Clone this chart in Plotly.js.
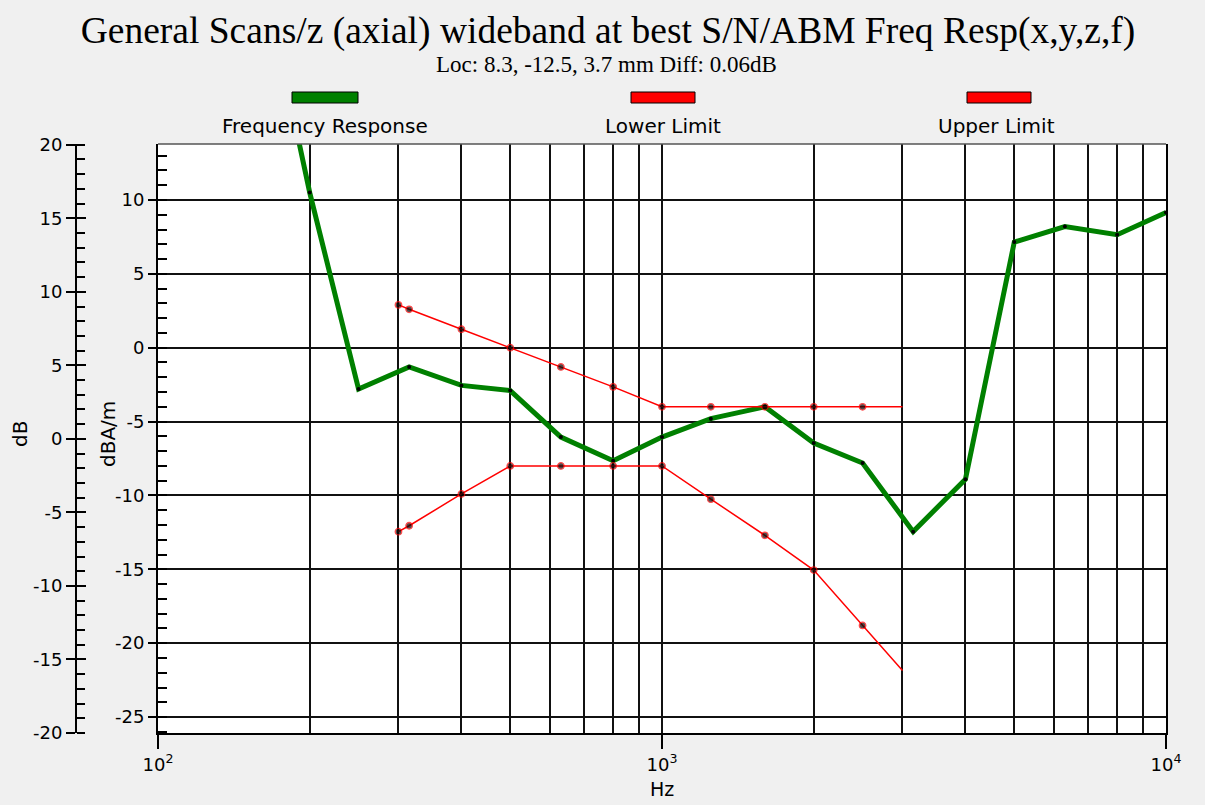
<!DOCTYPE html>
<html>
<head>
<meta charset="utf-8">
<script src="https://cdn.plot.ly/plotly-3.0.1.min.js"></script>
<style>html,body{margin:0;padding:0;background:#f0f0f0;}</style>
</head>
<body>
<div id="chart" style="width:1205px;height:805px;"></div>
<script>
// ---- data ----
const respFreq = [160, 200, 250, 315, 400, 500, 630, 800, 1000, 1250, 1600, 2000, 2500, 3150, 4000, 5000, 6300, 8000, 10000];
const respVal  = [26, 10.5, -2.8, -1.3, -2.55, -2.9, -6.05, -7.65, -6.05, -4.8, -4.0, -6.45, -7.8, -12.45, -8.9, 7.15, 8.2, 7.65, 9.15];

const lowerFreq = [300, 315, 400, 500, 630, 800, 1000, 1250, 1600, 2000, 2500, 3000];
const lowerVal  = [-12.45, -12.05, -9.9, -8, -8, -8, -8, -10.25, -12.7, -15.05, -18.8, -21.85];

const upperFreq = [300, 315, 400, 500, 630, 800, 1000, 1250, 1600, 2000, 2500, 3000];
const upperVal  = [2.9, 2.6, 1.25, 0, -1.3, -2.65, -4, -4, -4, -4, -4, -4];

const seriesNames = ["Frequency Response", "Lower Limit", "Upper Limit"];
const xTickVals = [100, 1000, 10000];
const xTickText = ["10<sup>2</sup>", "10<sup>3</sup>", "10<sup>4</sup>"];
const xMinorVals = [200, 300, 400, 500, 600, 700, 800, 900, 2000, 3000, 4000, 5000, 6000, 7000, 8000, 9000];
const innerTickVals = [-25, -20, -15, -10, -5, 0, 5, 10];
const innerTickText = ["-25", "-20", "-15", "-10", "-5", "0", "5", "10"];
const outerTickVals = [-20, -15, -10, -5, 0, 5, 10, 15, 20];
const outerTickText = ["-20", "-15", "-10", "-5", "0", "5", "10", "15", "20"];

const titleText = "General Scans/z (axial) wideband at best S/N/ABM Freq Resp(x,y,z,f)";
const subtitleText = "Loc: 8.3, -12.5, 3.7 mm Diff: 0.06dB";

// ---- layout geometry ----
const W = 1205, H = 805;
const mL = 60, mR = 39, mT = 144, mB = 72;
const plotW = W - mL - mR, plotH = H - mT - mB;
const px = x => (x - mL) / plotW;
const py = y => (H - mB - y) / plotH;

const sans = "DejaVu Sans, sans-serif";
const serif = "Liberation Serif, Times New Roman, serif";
const red = "#ff0000", green = "#008000";

const lastZero = n => Array.from({length: n}, (_, i) => i === n - 1 ? 0 : 6.5);

const traces = [
  {x: respFreq, y: respVal, name: seriesNames[0], mode: "lines+markers",
   line: {color: green, width: 5}, marker: {color: "black", size: 4}},
  {x: lowerFreq, y: lowerVal, name: seriesNames[1], mode: "lines+markers",
   line: {color: red, width: 1.5},
   marker: {color: "black", size: lastZero(lowerFreq.length), line: {color: red, width: 1.3}}},
  {x: upperFreq, y: upperVal, name: seriesNames[2], mode: "lines+markers",
   line: {color: red, width: 1.5},
   marker: {color: "black", size: lastZero(upperFreq.length), line: {color: red, width: 1.3}}},
  // empty carriers so the extra axes get drawn
  {x: [], y: [], yaxis: "y2", showlegend: false, hoverinfo: "skip"},
  {x: [], y: [], yaxis: "y3", showlegend: false, hoverinfo: "skip"},
  {x: [], y: [], yaxis: "y4", showlegend: false, hoverinfo: "skip"}
];

const innerRange = [-26.08, 13.79];
const outerRange = [-20, 20.05];
const outerPos = px(76);
const tickFont = {family: sans, size: 18, color: "#000"};

const layout = {
  width: W, height: H,
  margin: {l: mL, r: mR, t: mT, b: mB},
  paper_bgcolor: "#f0f0f0",
  plot_bgcolor: "#ffffff",
  showlegend: false,
  title: {text: titleText, font: {family: serif, size: 37.5, color: "#000"},
          xref: "container", yref: "container", x: 608 / W, xanchor: "center",
          y: 1 - 30 / H, yanchor: "middle"},
  xaxis: {
    type: "log", range: [2, 4], domain: [px(158), 1],
    tickmode: "array", tickvals: xTickVals, ticktext: xTickText,
    ticks: "outside", ticklen: 14, tickwidth: 2, tickcolor: "#000",
    tickfont: tickFont,
    showline: true, linecolor: "#000", linewidth: 2,
    showgrid: true, gridcolor: "#111", gridwidth: 2, zeroline: false,
    minor: {tickmode: "array", tickvals: xMinorVals, ticks: "", showgrid: true, gridcolor: "#111", gridwidth: 2}
  },
  yaxis: {
    range: innerRange, tickmode: "array", tickvals: innerTickVals, ticktext: innerTickText,
    ticks: "outside", ticklen: 8, tickwidth: 2, tickcolor: "#000",
    tickfont: tickFont,
    showline: true, linecolor: "#000", linewidth: 2, mirror: true,
    showgrid: true, gridcolor: "#111", gridwidth: 2, zeroline: false,
    minor: {dtick: 1, ticks: "inside", ticklen: 9, tickwidth: 2, tickcolor: "#000", showgrid: false}
  },
  yaxis3: {
    overlaying: "y", anchor: "x", range: innerRange, tickmode: "array", tickvals: innerTickVals,
    ticks: "inside", ticklen: 9, tickwidth: 2, tickcolor: "#000",
    showticklabels: false, showgrid: false, zeroline: false, showline: false
  },
  yaxis2: {
    overlaying: "y", anchor: "free", position: outerPos, side: "left",
    range: outerRange, tickmode: "array", tickvals: outerTickVals, ticktext: outerTickText,
    ticks: "outside", ticklen: 9, tickwidth: 2, tickcolor: "#000",
    tickfont: tickFont,
    showline: true, linecolor: "#000", linewidth: 2,
    showgrid: false, zeroline: false,
    minor: {dtick: 1, ticks: "inside", ticklen: 8, tickwidth: 2, tickcolor: "#000", showgrid: false}
  },
  yaxis4: {
    overlaying: "y", anchor: "free", position: outerPos, side: "left",
    range: outerRange, tickmode: "array", tickvals: outerTickVals.slice(1),
    ticks: "inside", ticklen: 9, tickwidth: 2, tickcolor: "#000",
    showticklabels: false, showgrid: false, zeroline: false, showline: false
  },
  shapes: [
    {type: "line", xref: "paper", yref: "paper", x0: px(158), x1: 1, y0: 1, y1: 1,
     line: {color: "#555", width: 1.5}},
    {type: "rect", xref: "paper", yref: "paper", x0: px(292), x1: px(358), y0: py(103), y1: py(92),
     fillcolor: green, line: {color: "#000", width: 1}},
    {type: "rect", xref: "paper", yref: "paper", x0: px(631), x1: px(695), y0: py(103), y1: py(92),
     fillcolor: red, line: {color: "#000", width: 1}},
    {type: "rect", xref: "paper", yref: "paper", x0: px(967), x1: px(1031), y0: py(103), y1: py(92),
     fillcolor: red, line: {color: "#000", width: 1}}
  ],
  annotations: [
    {text: subtitleText, xref: "paper", yref: "paper", x: px(606), y: py(64), showarrow: false,
     xanchor: "center", yanchor: "middle", font: {family: serif, size: 23, color: "#000"}},
    {text: seriesNames[0], xref: "paper", yref: "paper", x: px(325), y: py(126), showarrow: false,
     xanchor: "center", yanchor: "middle", font: {family: sans, size: 20, color: "#000"}},
    {text: seriesNames[1], xref: "paper", yref: "paper", x: px(663), y: py(126), showarrow: false,
     xanchor: "center", yanchor: "middle", font: {family: sans, size: 20, color: "#000"}},
    {text: seriesNames[2], xref: "paper", yref: "paper", x: px(997), y: py(126), showarrow: false,
     xanchor: "center", yanchor: "middle", font: {family: sans, size: 20, color: "#000"}},
    {text: "dB", xref: "paper", yref: "paper", x: px(20), y: py(434), textangle: -90, showarrow: false,
     xanchor: "center", yanchor: "middle", font: {family: sans, size: 20, color: "#000"}},
    {text: "dBA/m", xref: "paper", yref: "paper", x: px(108), y: py(434), textangle: -90, showarrow: false,
     xanchor: "center", yanchor: "middle", font: {family: sans, size: 20, color: "#000"}},
    {text: "Hz", xref: "paper", yref: "paper", x: px(662), y: py(789), showarrow: false,
     xanchor: "center", yanchor: "middle", font: {family: sans, size: 19, color: "#000"}}
  ]
};

Plotly.newPlot("chart", traces, layout, {displayModeBar: false, staticPlot: true});
</script>
</body>
</html>
